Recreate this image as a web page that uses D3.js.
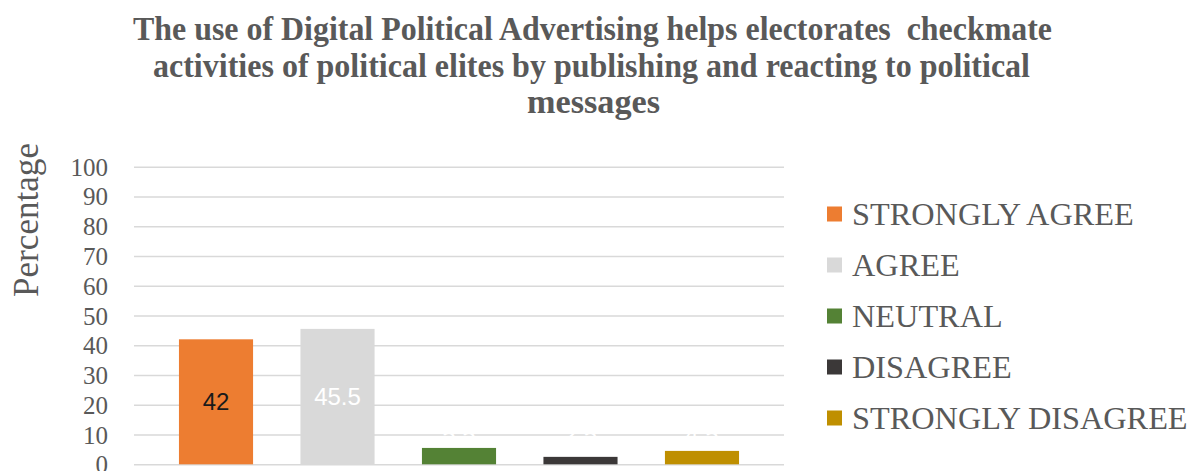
<!DOCTYPE html>
<html>
<head>
<meta charset="utf-8">
<script src="https://cdn.jsdelivr.net/npm/d3@7"></script>
<style>
  html, body { margin: 0; padding: 0; background: #ffffff; }
  svg { display: block; }
</style>
</head>
<body>
<svg id="chart" width="1189" height="471"></svg>
<script>
// Survey responses (percentage of respondents)
const categories = ["STRONGLY AGREE", "AGREE", "NEUTRAL", "DISAGREE", "STRONGLY DISAGREE"];
const values = [42, 45.5, 5.5, 2.5, 4.5];
const colors = ["#ED7D31", "#D9D9D9", "#548235", "#3B3838", "#BF8F00"];
const labelColors = ["#1a1a1a", "#ffffff", "#ffffff", "#ffffff", "#ffffff"];
const yTicks = [0, 10, 20, 30, 40, 50, 60, 70, 80, 90, 100];
const titleLines = [
  "The use of Digital Political Advertising helps electorates  checkmate",
  "activities of political elites by publishing and reacting to political",
  "messages"
];
const yAxisTitle = "Percentage";

const svg = d3.select("#chart");
const plot = { left: 134, right: 784, top: 166.7, bottom: 464.3 };

const x = d3.scaleBand()
  .domain(categories)
  .range([plot.left, plot.right])
  .paddingInner(0.39)
  .paddingOuter(0.37);

const y = d3.scaleLinear()
  .domain([0, 100])
  .range([plot.bottom, plot.top]);

// Title (bold serif, condensed to fit each line's width)
const titleLayout = [
  { x0: 133, x1: 1052, base: 40 },
  { x0: 153, x1: 1030, base: 77 },
  { x0: 527, x1: 660, base: 113 }
];
svg.append("g").selectAll("text")
  .data(titleLines)
  .join("text")
  .attr("x", (d, i) => titleLayout[i].x0)
  .attr("y", (d, i) => titleLayout[i].base)
  .attr("textLength", (d, i) => titleLayout[i].x1 - titleLayout[i].x0)
  .attr("lengthAdjust", "spacingAndGlyphs")
  .style("white-space", "pre")
  .attr("font-family", "'Liberation Serif', 'Times New Roman', serif")
  .attr("font-weight", "bold")
  .attr("font-size", 34)
  .attr("fill", "#595959")
  .text(d => d);

// Gridlines and y tick labels
const yAxis = d3.axisLeft(y)
  .tickValues(yTicks)
  .tickSize(-(plot.right - plot.left))
  .tickPadding(26)
  .tickFormat(d3.format("d"));

const gy = svg.append("g")
  .attr("transform", `translate(${plot.left},0)`)
  .call(yAxis);
gy.select(".domain").remove();
gy.selectAll(".tick line")
  .attr("stroke", "#D9D9D9")
  .attr("stroke-width", 1.6);
gy.selectAll(".tick text")
  .attr("font-family", "'Liberation Serif', 'Times New Roman', serif")
  .attr("font-size", 25)
  .attr("fill", "#595959")
  .attr("dy", "0.34em");

// Y axis title
svg.append("text")
  .attr("transform", "translate(38,220) rotate(-90)")
  .attr("x", -77)
  .attr("textLength", 154)
  .attr("lengthAdjust", "spacingAndGlyphs")
  .attr("font-family", "'Liberation Serif', 'Times New Roman', serif")
  .attr("font-size", 36)
  .attr("fill", "#595959")
  .text(yAxisTitle);

// Bars
svg.append("g").selectAll("rect")
  .data(categories)
  .join("rect")
  .attr("x", d => x(d))
  .attr("width", x.bandwidth())
  .attr("y", (d, i) => y(values[i]))
  .attr("height", (d, i) => y(0) - y(values[i]))
  .attr("fill", (d, i) => colors[i]);

// Value labels: centred in tall bars, raised above the short ones
svg.append("g").selectAll("text")
  .data(categories)
  .join("text")
  .attr("x", d => x(d) + x.bandwidth() / 2)
  .attr("y", (d, i) => values[i] > 20 ? (y(values[i]) + y(0)) / 2 : y(10))
  .attr("dy", "0.35em")
  .attr("text-anchor", "middle")
  .attr("font-family", "'Liberation Sans', Arial, sans-serif")
  .attr("font-size", 24)
  .attr("fill", (d, i) => labelColors[i])
  .text((d, i) => values[i]);

// Legend
const legend = svg.append("g").selectAll("g")
  .data(categories)
  .join("g")
  .attr("transform", (d, i) => `translate(827,${214 + i * 51})`);
legend.append("rect")
  .attr("x", 0)
  .attr("y", -7.5)
  .attr("width", 15)
  .attr("height", 15)
  .attr("fill", (d, i) => colors[i]);
legend.append("text")
  .attr("x", 25)
  .attr("y", 0)
  .attr("dy", "0.35em")
  .attr("font-family", "'Liberation Serif', 'Times New Roman', serif")
  .attr("font-size", 32.3)
  .attr("fill", "#595959")
  .text(d => d);
</script>
</body>
</html>
